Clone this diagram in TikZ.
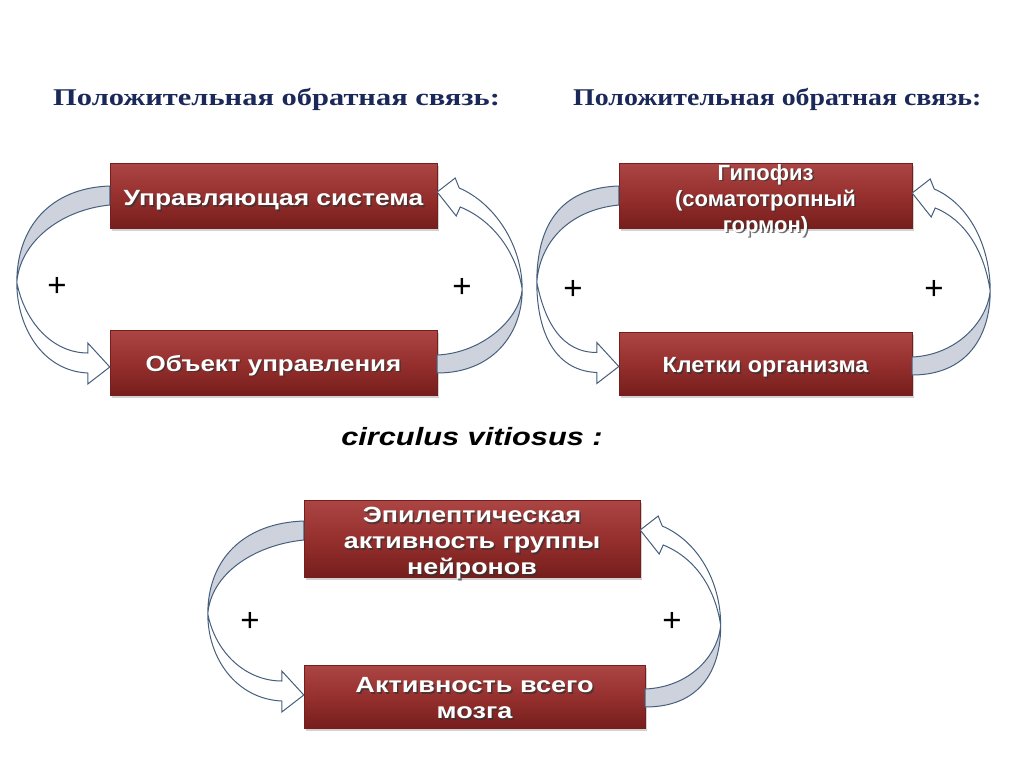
\documentclass[tikz,border=0pt]{standalone}
\usepackage{fontspec}
\setmainfont{Liberation Sans}
\newfontfamily\headfontA[FakeStretch=1.27]{Liberation Serif}
\newfontfamily\headfontB[FakeStretch=1.16]{Liberation Serif}
\usetikzlibrary{calc,shadows}
\definecolor{navy}{RGB}{27,40,90}
\definecolor{boxtop}{RGB}{172,70,68}
\definecolor{boxmid}{RGB}{150,48,46}
\definecolor{boxbot}{RGB}{118,30,28}
\definecolor{bandline}{RGB}{70,95,125}
\definecolor{bandfill}{RGB}{205,210,220}
\tikzset{
  redbox/.style={draw=boxbot, line width=0.4pt, top color=boxtop, bottom color=boxbot, middle color=boxmid, inner sep=0pt,
    drop shadow={opacity=0.35,shadow xshift=1.5pt,shadow yshift=-3pt}},
  boxtext/.style={text=white, align=center, inner sep=0pt},
  backband/.style={draw=bandline, line width=1pt, fill=bandfill},
  frontband/.style={draw=bandline, line width=1pt, fill=white},
  plus/.style={font=\fontsize{33}{33}\selectfont, inner sep=0pt},
  heading/.style={text=navy, anchor=base west, inner sep=0pt},
}
% #1 name, #2 position, #3 horizontal stretch, #4 text
\newcommand\boxlabel[4]{%
  \node[boxtext, text=black!80, opacity=0.7,
        font=\fontsize{22}{26}\selectfont\bfseries\addfontfeature{FakeStretch=#3}] (#1s) at ($(#2)+(1.5,1.5)$) {#4};
  \node[boxtext, font=\fontsize{22}{26}\selectfont\bfseries\addfontfeature{FakeStretch=#3}] (#1) at (#2) {#4};}
% left loop: #1 tail point (top of band) on upper box, #2 tip on lower box, #3 outward distance, #4 name
\newcommand\leftloop[4]{%
  \coordinate (#4k) at ($(#1)!0.5!(#2)+(-#3,6)$);
  \draw[backband] (#1) .. controls +(-60,2) and +(0,-55) .. (#4k)
    .. controls +(3,-40) and +(-50,5) .. ($(#1)+(0,19)$) -- cycle;
  \draw[frontband] (#4k) .. controls +(8,40) and +(-35,0) .. ($(#2)+(-22,-14)$)
    -- ($(#2)+(-22,-24)$) -- (#2) -- ($(#2)+(-22,17)$) -- ($(#2)+(-22,6)$)
    .. controls +(-45,-2) and +(0,45) .. (#4k) -- cycle;}
% right loop: #1 tail point (top of band) on lower box, #2 tip on upper box
\newcommand\rightloop[4]{%
  \coordinate (#4k) at ($(#1)!0.5!(#2)+(#3,16)$);
  \draw[backband] ($(#1)+(0,18)$) .. controls +(55,0) and +(0,45) .. (#4k)
    .. controls +(-3,30) and +(45,-2) .. (#1) -- cycle;
  \draw[frontband] (#4k) .. controls +(0,-45) and +(35,15) .. ($(#2)+(22,-4)$)
    -- ($(#2)+(18,-14)$) -- (#2) -- ($(#2)+(19,24)$) -- ($(#2)+(23,15)$)
    .. controls +(30,12) and +(-6,-40) .. (#4k) -- cycle;}
\begin{document}
\begin{tikzpicture}[x=1pt,y=-1pt]
\useasboundingbox[fill=white] (0,0) rectangle (1024,768);
% headings
\node[heading, font=\headfontA\fontsize{24}{28}\selectfont\bfseries] (h1) at (53,105) {Положительная обратная связь:};
\node[heading, font=\headfontB\fontsize{24}{28}\selectfont\bfseries] (h2) at (573,105) {Положительная обратная связь:};
\node[font=\fontsize{25}{28}\selectfont\bfseries\itshape\addfontfeature{FakeStretch=1.23}, inner sep=0pt] (cv) at (472,437) {circulus vitiosus :};
% boxes
\node[redbox, minimum width=327, minimum height=65] (A1) at (273.5,195.5) {};
\node[redbox, minimum width=327, minimum height=65] (A2) at (273.5,362.5) {};
\node[redbox, minimum width=293, minimum height=65] (B1) at (765.5,195.5) {};
\node[redbox, minimum width=293, minimum height=63] (B2) at (765.5,363.5) {};
\node[redbox, minimum width=336, minimum height=77] (C1) at (472,538.5) {};
\node[redbox, minimum width=341, minimum height=63] (C2) at (474.5,696.5) {};
% loops
\coordinate (aP) at ($(A1.west)+(0,-9.5)$);
\coordinate (aQ) at ($(A2.west)+(0,4.5)$);
\coordinate (aR) at ($(A2.east)+(0,-7.5)$);
\coordinate (aS) at ($(A1.east)+(0,-3.5)$);
\leftloop{aP}{aQ}{93}{al}
\rightloop{aR}{aS}{85}{ar}
\coordinate (bP) at ($(B1.west)+(0,-9.5)$);
\coordinate (bQ) at ($(B2.west)+(0,3)$);
\coordinate (bR) at ($(B2.east)+(0,-6.5)$);
\coordinate (bS) at ($(B1.east)+(0,-2.5)$);
\leftloop{bP}{bQ}{82}{bl}
\rightloop{bR}{bS}{78}{br}
\coordinate (cP) at ($(C1.west)+(0,-17.5)$);
\coordinate (cQ) at ($(C2.west)+(0,-1.5)$);
\coordinate (cR) at ($(C2.east)+(0,-7.5)$);
\coordinate (cS) at ($(C1.east)+(0,-8.5)$);
\leftloop{cP}{cQ}{96}{cl}
\rightloop{cR}{cS}{78}{cr}
% box texts
\coordinate (tA1p) at ($(A1.center)+(0,5)$);
\coordinate (tA2p) at ($(A2.center)+(0,3)$);
\coordinate (tB1p) at ($(B1.center)+(0,5)$);
\coordinate (tB2p) at ($(B2.center)+(0,4)$);
\coordinate (tC1p) at ($(C1.center)+(0,5)$);
\coordinate (tC2p) at ($(C2.center)+(0,2)$);
\boxlabel{tA1}{tA1p}{1.2}{Управляющая система}
\boxlabel{tA2}{tA2p}{1.18}{Объект управления}
\boxlabel{tB1}{tB1p}{1.0}{Гипофиз\\(соматотропный\\гормон)}
\boxlabel{tB2}{tB2p}{1.06}{Клетки организма}
\boxlabel{tC1}{tC1p}{1.22}{Эпилептическая\\активность группы\\нейронов}
\boxlabel{tC2}{tC2p}{1.23}{Активность всего\\мозга}
% plus signs
\node[plus] (p1) at (57,287) {+};
\node[plus] (p2) at (462,288) {+};
\node[plus] (p3) at (573,290) {+};
\node[plus] (p4) at (934,290) {+};
\node[plus] (p5) at (250,622) {+};
\node[plus] (p6) at (672,622) {+};
\end{tikzpicture}
\end{document}
